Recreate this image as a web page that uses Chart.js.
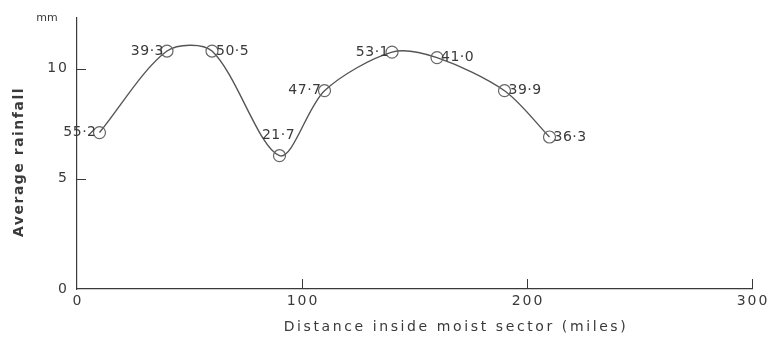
<!DOCTYPE html>
<html>
<head>
<meta charset="utf-8">
<script src="https://cdn.jsdelivr.net/npm/chart.js@4.4.1/dist/chart.umd.min.js"></script>
<style>
  html, body { margin:0; padding:0; background:#fff; }
  #wrap { width:772px; height:342px; }
</style>
</head>
<body>
<div id="wrap"><canvas id="c" width="772" height="342"></canvas></div>
<script>
// distance inside moist sector (miles) and average rainfall (mm)
const distances = [10, 40, 60, 90, 110, 140, 160, 190, 210];
const rainfall  = [7.1, 10.8, 10.8, 6.05, 9.0, 10.75, 10.5, 9.0, 6.9];
const pointLabels = ['55·2', '39·3', '50·5', '21·7', '47·7', '53·1', '41·0', '39·9', '36·3'];
const xTicks = [0, 100, 200, 300];
const yTicks = [0, 5, 10];

const INK  = '#3a3a3a';
const LINE = '#555';
const FONT = '"DejaVu Sans", sans-serif';

// where each value label sits relative to its circle
const labelSide = ['left', 'left', 'right', 'above', 'left', 'left', 'right', 'right', 'right'];

const decorations = {
  id: 'decorations',
  afterDraw(chart) {
    const { ctx, scales: { x, y } } = chart;
    ctx.save();
    ctx.strokeStyle = INK;
    ctx.lineWidth = 1;
    // inward tick marks
    yTicks.slice(1).forEach(v => {
      const py = Math.round(y.getPixelForValue(v)) + 0.5;
      ctx.beginPath(); ctx.moveTo(x.left, py); ctx.lineTo(x.left + 9, py); ctx.stroke();
    });
    xTicks.slice(1).forEach(v => {
      const px = Math.round(x.getPixelForValue(v)) + 0.5;
      ctx.beginPath(); ctx.moveTo(px, y.bottom); ctx.lineTo(px, y.bottom - 10); ctx.stroke();
    });
    ctx.fillStyle = INK;
    ctx.textBaseline = 'middle';

    // tick labels, spaced out like stencil lettering
    ctx.font = '14px ' + FONT;
    ctx.letterSpacing = '2px';
    ctx.textAlign = 'center';
    xTicks.forEach(v => ctx.fillText(String(v), x.getPixelForValue(v) + 1, y.bottom + 12));
    ctx.textAlign = 'right';
    yTicks.forEach(v => ctx.fillText(String(v), x.left - 8, y.getPixelForValue(v)));

    // axis titles
    ctx.textAlign = 'center';
    ctx.letterSpacing = '2.6px';
    ctx.fillText('Distance inside moist sector (miles)', 456, 327);
    ctx.save();
    ctx.translate(19, 162);
    ctx.rotate(-Math.PI / 2);
    ctx.font = 'bold 14px ' + FONT;
    ctx.letterSpacing = '1.5px';
    ctx.fillText('Average rainfall', 0, 0);
    ctx.restore();

    // unit label
    ctx.letterSpacing = '0px';
    ctx.font = '11px ' + FONT;
    ctx.fillText('mm', 47, 18);

    // value labels
    ctx.font = '14px ' + FONT;
    ctx.letterSpacing = '0.5px';
    const meta = chart.getDatasetMeta(0);
    meta.data.forEach((pt, i) => {
      const side = labelSide[i];
      if (side === 'left') {
        ctx.textAlign = 'right'; ctx.fillText(pointLabels[i], pt.x - 3, pt.y);
      } else if (side === 'right') {
        ctx.textAlign = 'left'; ctx.fillText(pointLabels[i], pt.x + 4, pt.y);
      } else {
        ctx.textAlign = 'center'; ctx.fillText(pointLabels[i], pt.x - 1, pt.y - 20);
      }
    });
    ctx.restore();
  }
};

new Chart(document.getElementById('c'), {
  type: 'line',
  data: {
    datasets: [{
      data: distances.map((d, i) => ({ x: d, y: rainfall[i] })),
      borderColor: LINE,
      borderWidth: 1.4,
      tension: 0.3,
      pointRadius: 6,
      pointBorderWidth: 1.2,
      pointBorderColor: '#666',
      pointBackgroundColor: 'rgba(0,0,0,0)'
    }]
  },
  options: {
    responsive: false,
    animation: false,
    layout: { padding: { top: 18, right: 20, left: 0, bottom: 0 } },
    plugins: { legend: { display: false }, tooltip: { enabled: false } },
    scales: {
      x: {
        type: 'linear', min: 0, max: 300,
        afterBuildTicks: s => { s.ticks = xTicks.map(v => ({ value: v })); },
        afterFit: s => { s.height = 53; },
        grid: { display: false, drawTicks: false },
        border: { display: true, color: INK, width: 1.2 },
        ticks: { display: false }
      },
      y: {
        type: 'linear', min: 0, max: 12.3,
        afterBuildTicks: s => { s.ticks = yTicks.map(v => ({ value: v })); },
        afterFit: s => { s.width = 77; },
        grid: { display: false, drawTicks: false },
        border: { display: true, color: INK, width: 1.2 },
        ticks: { display: false }
      }
    }
  },
  plugins: [decorations]
});
</script>
</body>
</html>
